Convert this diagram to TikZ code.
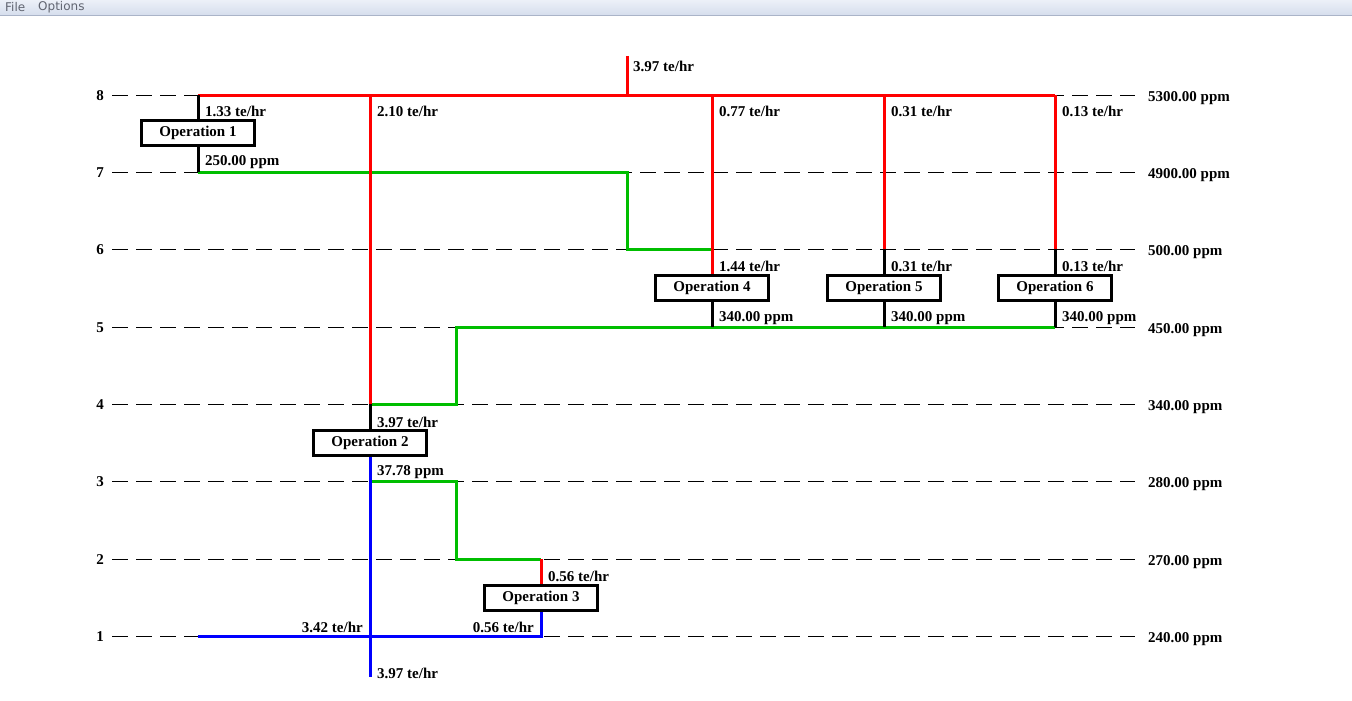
\documentclass[tikz,border=0pt]{standalone}
\usepackage{fontspec}
\setmainfont{Liberation Serif}
\newfontfamily\menufont{DejaVu Sans}
\definecolor{barTop}{RGB}{236,240,248}
\definecolor{barBot}{RGB}{214,222,237}
\definecolor{barLine}{RGB}{170,180,200}
\definecolor{menuText}{RGB}{96,100,112}
\definecolor{wGreen}{RGB}{0,190,0}

\begin{document}
\begin{tikzpicture}[x=1pt,y=-1pt,
    every node/.style={font=\fontsize{15}{17}\selectfont\bfseries},
    stream/.style={line width=3pt},
    opbox/.style={draw,line width=3pt,fill=white,minimum width=113,
        minimum height=25,inner sep=0},
    lbl/.style={anchor=west,inner sep=0},
    rlbl/.style={anchor=east,inner sep=0},
    lvline/.style={dash pattern=on 16pt off 8pt,line width=1pt},
    menu/.style={font=\menufont\fontsize{12}{14}\selectfont,text=menuText,
        anchor=west,inner sep=0}]
    \useasboundingbox (0,0) rectangle (1352,701);
    \fill[white] (0,0) rectangle (1352,701);

    % menu bar
    \shade[top color=barTop,bottom color=barBot] (0,0) rectangle (1352,15);
    \draw[barLine] (0,15.5) -- (1352,15.5);
    \node[menu] (file) at (5,7) {File};
    \node[menu] (options) at (38,7) {Options};

    % concentration levels
    \foreach \n/\yy/\c in {8/95/5300.00,7/172/4900.00,6/249/500.00,
        5/327/450.00,4/404/340.00,3/481/280.00,2/559/270.00,1/636/240.00}{
        \node (lv\n) at (100,\yy+1) {\n};
        \draw[lvline] (112,\yy) -- (1135,\yy);
        \node[lbl] (ppm\n) at (1148,\yy+3.5) {\c\ ppm};
    }

    % fresh water header
    \coordinate (src) at (627,56);
    \coordinate (hd) at (627,95);
    \coordinate (h1) at (198,95);
    \coordinate (h2) at (370,95);
    \coordinate (h4) at (712,95);
    \coordinate (h5) at (884,95);
    \coordinate (h6) at (1055,95);
    \draw[stream,red] (src) -- (hd);
    \draw[stream,red] (h1) -- (h6);

    % operations
    \node[opbox] (op1) at (198,133) {Operation 1};
    \node[opbox] (op2) at (370,443) {Operation 2};
    \node[opbox] (op3) at (541,598) {Operation 3};
    \node[opbox] (op4) at (712,288) {Operation 4};
    \node[opbox] (op5) at (884,288) {Operation 5};
    \node[opbox] (op6) at (1055,288) {Operation 6};

    % junction points
    \coordinate (o1) at (198,172);
    \coordinate (g1) at (627,172);
    \coordinate (g2) at (627,249);
    \coordinate (i4) at (712,249);
    \coordinate (i5) at (884,249);
    \coordinate (i6) at (1055,249);
    \coordinate (o4) at (712,327);
    \coordinate (o5) at (884,327);
    \coordinate (o6) at (1055,327);
    \coordinate (g3) at (456,327);
    \coordinate (g4) at (456,404);
    \coordinate (i2) at (370,404);
    \coordinate (o2) at (370,481);
    \coordinate (g5) at (456,481);
    \coordinate (g6) at (456,559);
    \coordinate (i3) at (541,559);
    \coordinate (o3) at (541,636);
    \coordinate (w1) at (198,636);
    \coordinate (out) at (370,677);

    % reuse streams
    \draw[stream,wGreen] (o1) -- (g1) -- (g2) -- (i4);
    \draw[stream,wGreen] (o6) -- (g3) -- (g4) -- (i2);
    \draw[stream,wGreen] (o2) -- (g5) -- (g6) -- (i3);

    % fresh water branches
    \draw[stream,red] (h2) -- (i2);
    \draw[stream,red] (h4) -- (op4.north);
    \draw[stream,red] (h5) -- (i5);
    \draw[stream,red] (h6) -- (i6);
    \draw[stream,red] (i3) -- (op3.north);

    % operation inlets / outlets
    \draw[stream] (h1) -- (op1.north) (op1.south) -- (o1);
    \draw[stream] (i2) -- (op2.north);
    \draw[stream] (op4.south) -- (o4);
    \draw[stream] (i5) -- (op5.north) (op5.south) -- (o5);
    \draw[stream] (i6) -- (op6.north) (op6.south) -- (o6);

    % waste water
    \draw[stream,blue] (op2.south) -- (out);
    \draw[stream,blue] (op3.south) -- (o3) -- (w1);

    % redraw boxes over the lines
    \node[opbox] at (op1) {Operation 1};
    \node[opbox] at (op2) {Operation 2};
    \node[opbox] at (op3) {Operation 3};
    \node[opbox] at (op4) {Operation 4};
    \node[opbox] at (op5) {Operation 5};
    \node[opbox] at (op6) {Operation 6};

    % flows and concentrations
    \node[lbl] (fw) at (633,66) {3.97 te/hr};
    \node[lbl] (f1) at (205,111) {1.33 te/hr};
    \node[lbl] (c1) at (205,162) {250.00 ppm};
    \node[lbl] (f2) at (377,111) {2.10 te/hr};
    \node[lbl] (f4) at (719,111) {0.77 te/hr};
    \node[lbl] (f5) at (891,111) {0.31 te/hr};
    \node[lbl] (f6) at (1062,111) {0.13 te/hr};
    \node[lbl] (t4) at (719,266) {1.44 te/hr};
    \node[lbl] (t5) at (891,266) {0.31 te/hr};
    \node[lbl] (t6) at (1062,266) {0.13 te/hr};
    \node[lbl] (c4) at (719,318) {340.00 ppm};
    \node[lbl] (c5) at (891,318) {340.00 ppm};
    \node[lbl] (c6) at (1062,318) {340.00 ppm};
    \node[lbl] (t2) at (377,422) {3.97 te/hr};
    \node[lbl] (c2) at (377,472) {37.78 ppm};
    \node[lbl] (t3) at (548,576) {0.56 te/hr};
    \node[rlbl] (ww1) at (363,627) {3.42 te/hr};
    \node[rlbl] (ww3) at (534,627) {0.56 te/hr};
    \node[lbl] (ww) at (377,673) {3.97 te/hr};
\end{tikzpicture}
\end{document}
